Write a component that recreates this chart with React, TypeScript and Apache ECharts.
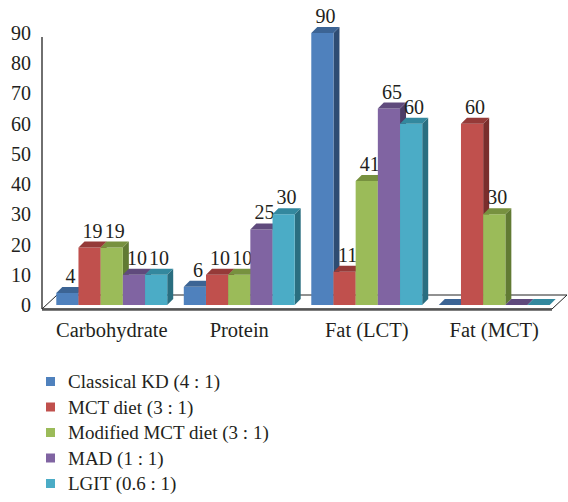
import React, { useEffect, useRef } from "react";
import * as echarts from "echarts";

const categories = ["Carbohydrate", "Protein", "Fat (LCT)", "Fat (MCT)"];
const seriesNames = [
  "Classical KD (4 : 1)",
  "MCT diet (3 : 1)",
  "Modified MCT diet (3 : 1)",
  "MAD (1 : 1)",
  "LGIT (0.6 : 1)",
];
const classicalKD = [4, 6, 90, 0];
const mctDiet = [19, 10, 11, 60];
const modifiedMct = [19, 10, 41, 30];
const mad = [10, 25, 65, 0];
const lgit = [10, 30, 60, 0];
const seriesValues = [classicalKD, mctDiet, modifiedMct, mad, lgit];

const frontColors = ["#4F81BD", "#C0504D", "#9BBB59", "#8064A2", "#4BACC6"];
const topColors = ["#3C6494", "#953A38", "#77913F", "#5F4A7C", "#33889E"];
const sideColors = ["#2E4C72", "#7A2E2C", "#617A33", "#4D3C66", "#2A6E80"];

const FONT = "Liberation Serif";
const DEPTH = 6;

export default function App() {
  const ref = useRef<HTMLDivElement>(null);
  useEffect(() => {
    if (!ref.current) return;
    const chart = echarts.init(ref.current, undefined, { renderer: "svg" });

    const barSeries = seriesValues.map((vals, si) => ({
      type: "custom",
      name: seriesNames[si],
      z: 3,
      itemStyle: { color: frontColors[si] },
      data: vals.map((v, i) => [i, v]),
      renderItem: (params: any, api: any) => {
        const cat = api.value(0);
        const v = api.value(1);
        const base = api.coord([cat, 0]);
        const top = api.coord([cat, v]);
        const band = api.size([1, 0])[0];
        const groupW = band * 0.87;
        const bw = groupW / 5;
        const x0 = base[0] - groupW / 2 + si * bw;
        const yt = top[1];
        const yb = base[1];
        const d = DEPTH;
        const children: any[] = [
          {
            type: "polygon",
            shape: { points: [[x0 + bw, yt], [x0 + bw + d, yt - d], [x0 + bw + d, yb - d], [x0 + bw, yb]] },
            style: { fill: sideColors[si] },
          },
          {
            type: "rect",
            shape: { x: x0, y: yt, width: bw, height: Math.max(0, yb - yt) },
            style: { fill: frontColors[si] },
          },
          {
            type: "polygon",
            shape: { points: [[x0, yt], [x0 + bw, yt], [x0 + bw + d, yt - d], [x0 + d, yt - d]] },
            style: { fill: topColors[si] },
          },
        ];
        if (v > 0) {
          children.push({
            type: "text",
            style: {
              text: String(v),
              x: x0 + bw / 2 + d / 2,
              y: yt - d - 1,
              align: "center",
              verticalAlign: "bottom",
              fontFamily: FONT,
              fontSize: 20,
              fill: "#231f20",
            },
          });
        }
        return { type: "group", children };
      },
    }));

    const floorSeries = {
      type: "custom",
      name: "floor",
      z: 1,
      silent: true,
      legendHoverLink: false,
      data: [[0, 0]],
      renderItem: (params: any, api: any) => {
        const cs = params.coordSys;
        const fx = cs.x - 6;
        const fy = cs.y + cs.height + 4;
        const fr = cs.x + cs.width - 6;
        const dx = 15;
        const dy = 14;
        return {
          type: "group",
          children: [
            {
              type: "polygon",
              shape: { points: [[fx, fy], [fr, fy], [fr + dx, fy - dy], [fx + dx, fy - dy]] },
              style: { fill: "#ffffff", stroke: "#222", lineWidth: 1 },
            },
            {
              type: "line",
              shape: { x1: fx, y1: fy + 0.5, x2: fr, y2: fy + 0.5 },
              style: { stroke: "#555", lineWidth: 2.5 },
            },
            {
              type: "line",
              shape: { x1: fx, y1: cs.y + 4, x2: fx, y2: fy },
              style: { stroke: "#222", lineWidth: 1.3 },
            },
          ],
        };
      },
    };

    chart.setOption({
      animation: false,
      backgroundColor: "#ffffff",
      textStyle: { fontFamily: FONT },
      grid: { left: 48, right: 10, top: 33, bottom: 197, containLabel: false },
      legend: {
        orient: "vertical",
        left: 41,
        top: 367,
        height: 134,
        icon: "rect",
        itemWidth: 9,
        itemHeight: 9,
        itemGap: 6.5,
        data: seriesNames,
        textStyle: { fontFamily: FONT, fontSize: 19, color: "#231f20", padding: [0, 0, 0, 8] },
      },
      xAxis: {
        type: "category",
        data: categories,
        axisLine: { show: false },
        axisTick: { show: false },
        axisLabel: { interval: 0, margin: 14, fontFamily: FONT, fontSize: 20.5, color: "#231f20" },
      },
      yAxis: {
        type: "value",
        min: 0,
        max: 90,
        interval: 10,
        offset: 6,
        axisLine: { show: false },
        axisTick: { show: false },
        splitLine: { show: false },
        axisLabel: { margin: 11, fontFamily: FONT, fontSize: 20, color: "#231f20", padding: [5, 0, 0, 0] },
      },
      series: [floorSeries, ...barSeries],
    });
    return () => chart.dispose();
  }, []);
  return (
    <div
      ref={ref}
      style={{ position: "fixed", left: 0, top: 0, width: 568, height: 502 }}
    />
  );
}
